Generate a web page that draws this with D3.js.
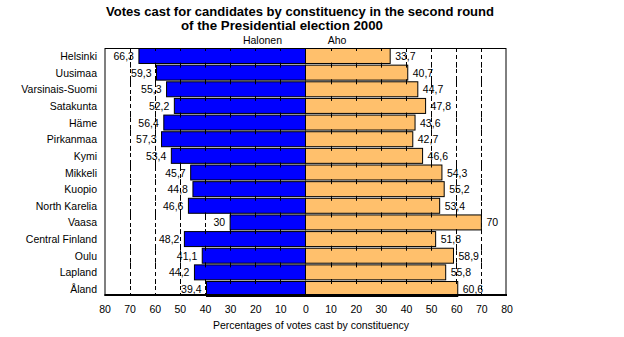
<!DOCTYPE html>
<html>
<head>
<meta charset="utf-8">
<script src="https://cdn.jsdelivr.net/npm/d3@7"></script>
<style>
  html, body { margin: 0; padding: 0; background: #fff; }
  svg { display: block; }
  text { font-family: Arial, "Liberation Sans", sans-serif; fill: #000; }
</style>
</head>
<body>
<svg id="chart" width="624" height="337"></svg>
<script>
const constituencies = ["Helsinki", "Uusimaa", "Varsinais-Suomi", "Satakunta", "Häme", "Pirkanmaa", "Kymi", "Mikkeli", "Kuopio", "North Karelia", "Vaasa", "Central Finland", "Oulu", "Lapland", "Åland"];
const halonen = [66.3, 59.3, 55.3, 52.2, 56.4, 57.3, 53.4, 45.7, 44.8, 46.6, 30, 48.2, 41.1, 44.2, 39.4];
const aho = [33.7, 40.7, 44.7, 47.8, 43.6, 42.7, 46.6, 54.3, 55.2, 53.4, 70, 51.8, 58.9, 55.8, 60.6];
const tickValues = [-80, -70, -60, -50, -40, -30, -20, -10, 0, 10, 20, 30, 40, 50, 60, 70, 80];
const gridValues = [-70, -60, -50, -40, 40, 50, 60, 70];
const seriesNames = ["Halonen", "Aho"];
const titleLines = ["Votes cast for candidates by constituency in the second round", "of the Presidential election 2000"];
const axisTitle = "Percentages of votes cast by constituency";

const svg = d3.select("#chart");
const pLeft = 104.5, pRight = 506.5, pTop = 48, pBottom = 296;

const x = d3.scaleLinear().domain([-80, 80]).range([pLeft, pRight]);
const y = d3.scaleBand().domain(constituencies).range([pTop, pBottom]).paddingInner(0.1).paddingOuter(0);
const fmt = v => d3.format("~f")(v).replace(".", ",");

// Title
svg.append("text").attr("x", 106).attr("y", 15.5)
  .attr("font-size", 12.5).attr("font-weight", "bold")
  .attr("textLength", 388).attr("lengthAdjust", "spacingAndGlyphs")
  .text(titleLines[0]);
svg.append("text").attr("x", 181).attr("y", 29.5)
  .attr("font-size", 12.5).attr("font-weight", "bold")
  .attr("textLength", 202).attr("lengthAdjust", "spacingAndGlyphs")
  .text(titleLines[1]);

// Series labels
svg.append("text").attr("x", 262.5).attr("y", 44).attr("text-anchor", "middle")
  .attr("font-size", 10.5).text(seriesNames[0]);
svg.append("text").attr("x", 337).attr("y", 44).attr("text-anchor", "middle")
  .attr("font-size", 10.5).text(seriesNames[1]);

// Gridlines (dashed)
svg.append("g").selectAll("line").data(gridValues).join("line")
  .attr("x1", d => Math.round(x(d)) + 0.5).attr("x2", d => Math.round(x(d)) + 0.5)
  .attr("y1", pTop).attr("y2", pBottom)
  .attr("stroke", "#000").attr("stroke-width", 1).attr("stroke-dasharray", "4,3");

// Bars
const rows = constituencies.map((c, i) => ({ c, h: halonen[i], a: aho[i] }));
const barG = svg.append("g");
barG.selectAll("rect.h").data(rows).join("rect").attr("class", "h")
  .attr("x", d => x(-d.h)).attr("width", d => x(0) - x(-d.h))
  .attr("y", d => y(d.c) + 0.5).attr("height", y.bandwidth())
  .attr("fill", "#0000ff").attr("stroke", "#000").attr("stroke-width", 1);
barG.selectAll("rect.a").data(rows).join("rect").attr("class", "a")
  .attr("x", x(0)).attr("width", d => x(d.a) - x(0))
  .attr("y", d => y(d.c) + 0.5).attr("height", y.bandwidth())
  .attr("fill", "#ffc06c").attr("stroke", "#000").attr("stroke-width", 1);

// Small ticks at row boundaries
const boundaries = constituencies.map(c => y(c)).concat([pBottom]);
const tickXs = tickValues.filter(v => v !== 0 && Math.abs(v) < 80);
const tg = svg.append("g");
boundaries.forEach(b => {
  tg.append("g").selectAll("line").data(tickXs).join("line")
    .attr("x1", d => Math.round(x(d)) + 0.5).attr("x2", d => Math.round(x(d)) + 0.5)
    .attr("y1", Math.max(pTop, b - 2)).attr("y2", Math.min(pBottom, b + 3))
    .attr("stroke", "#000").attr("stroke-width", 1);
});

// Value labels
svg.append("g").selectAll("text").data(rows).join("text")
  .attr("x", d => x(-d.h) - 5).attr("y", d => y(d.c) + y.bandwidth() / 2 + 4.5)
  .attr("text-anchor", "end").attr("font-size", 10.5).text(d => fmt(d.h));
svg.append("g").selectAll("text").data(rows).join("text")
  .attr("x", d => x(d.a) + 5).attr("y", d => y(d.c) + y.bandwidth() / 2 + 4.5)
  .attr("text-anchor", "start").attr("font-size", 10.5).text(d => fmt(d.a));

// Category labels
svg.append("g").selectAll("text").data(constituencies).join("text")
  .attr("x", 97).attr("y", d => y(d) + y.bandwidth() / 2 + 4.5)
  .attr("text-anchor", "end").attr("font-size", 10.5).text(d => d);

// Plot frame
svg.append("rect").attr("x", pLeft + 0.5).attr("y", pTop + 0.5)
  .attr("width", pRight - pLeft - 1).attr("height", pBottom - pTop - 1)
  .attr("fill", "none").attr("stroke", "#000").attr("stroke-width", 1);
svg.append("line").attr("x1", pLeft).attr("x2", pRight + 0.5).attr("y1", pBottom - 1).attr("y2", pBottom - 1)
  .attr("stroke", "#000").attr("stroke-width", 2);

// X axis labels
const xAxis = d3.axisBottom(x).tickValues(tickValues).tickSize(0).tickPadding(0)
  .tickFormat(d => String(Math.abs(d)));
const ax = svg.append("g").attr("transform", `translate(0,${pBottom})`).call(xAxis);
ax.select(".domain").remove();
ax.selectAll("text").attr("font-size", 10.5).attr("dy", null).attr("y", 16.5)
  .attr("font-family", "Arial, 'Liberation Sans', sans-serif").attr("fill", "#000");

svg.append("text").attr("x", 311).attr("y", 329).attr("text-anchor", "middle")
  .attr("font-size", 10.5).text(axisTitle);
</script>
</body>
</html>
